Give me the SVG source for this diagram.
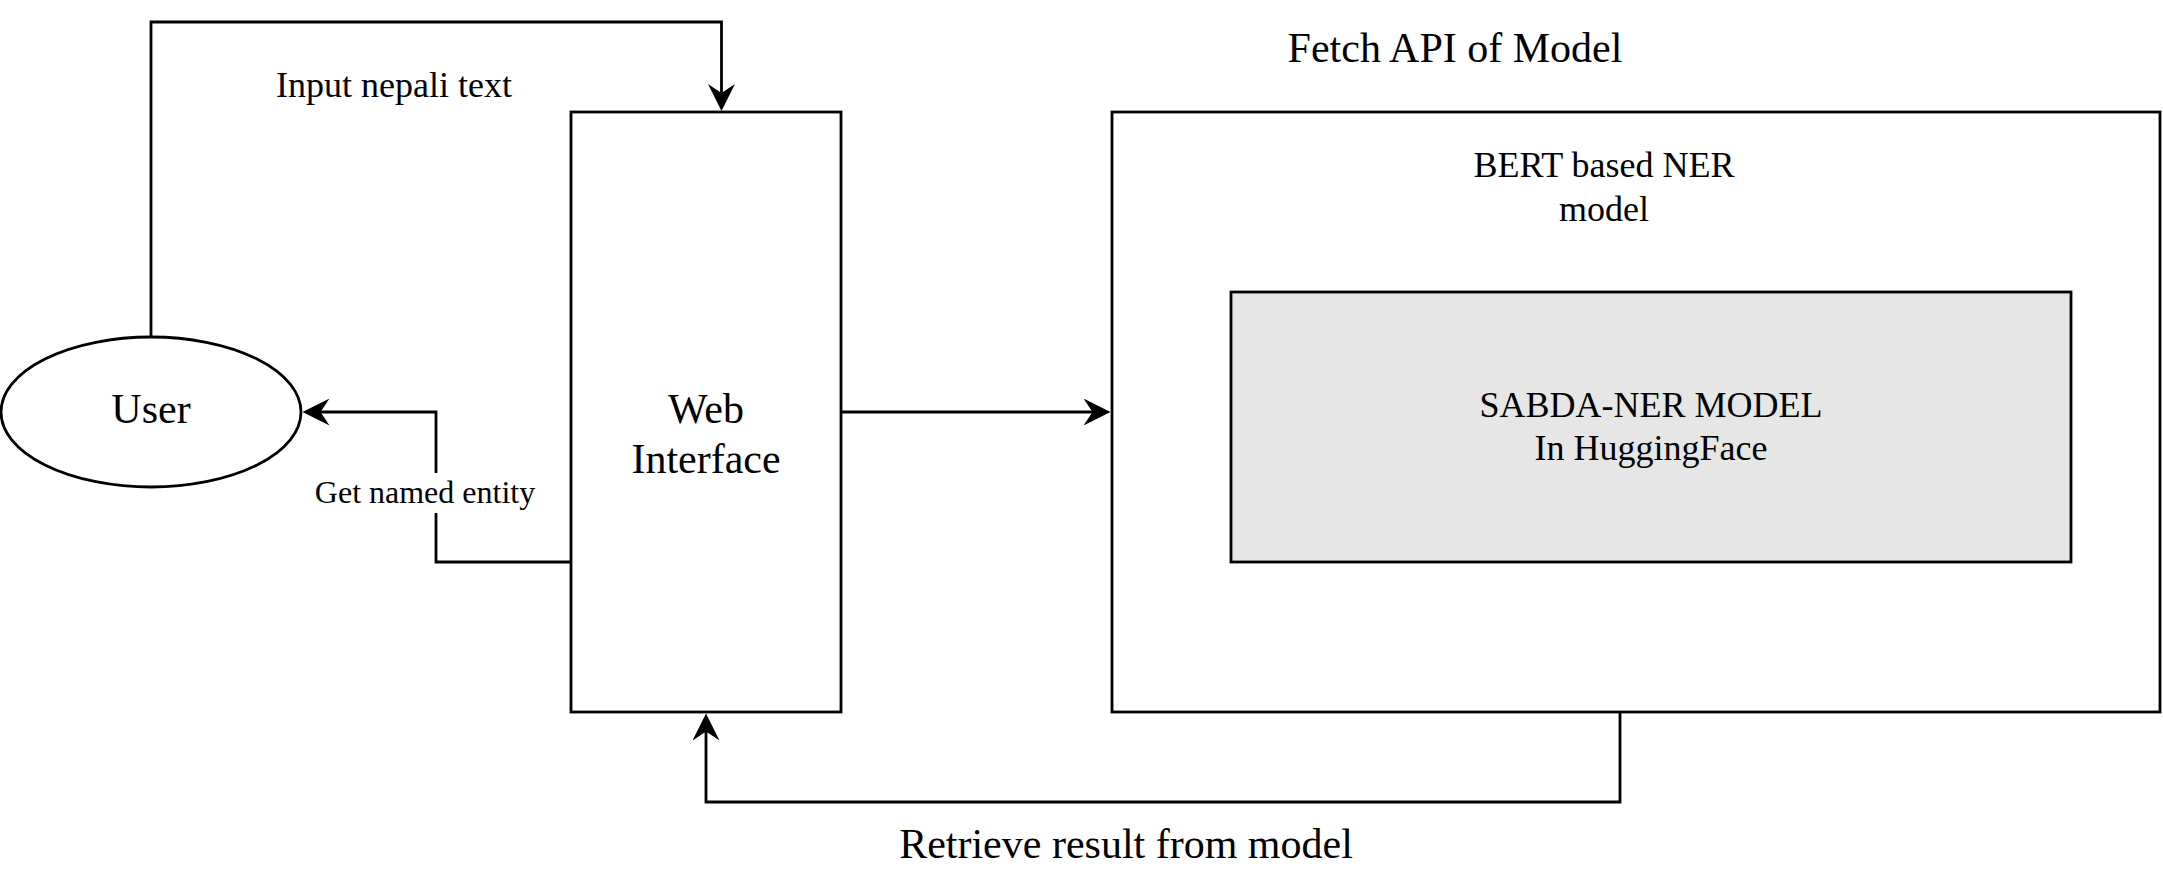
<svg xmlns="http://www.w3.org/2000/svg" width="2163" height="894" viewBox="0 0 2163 894">
<style>
.shape{fill:#ffffff;stroke:#000000;stroke-width:2.8}
.gray{fill:#e6e6e6;stroke:#000000;stroke-width:2.8}
.conn{fill:none;stroke:#000000;stroke-width:2.8}
text{font-family:"Liberation Serif","Times New Roman",serif;fill:#000000;text-anchor:middle}
.big{font-size:42px}
.mid{font-size:36px}
.small{font-size:32px}
</style>
<defs>
<marker id="arr" viewBox="0 0 27 27" markerWidth="27" markerHeight="27" refX="17" refY="13.5" markerUnits="userSpaceOnUse" orient="auto">
<path d="M0,0 L27,13.5 L0,27 L9,13.5 Z" fill="#000000"/>
</marker>
</defs>
<rect width="2163" height="894" fill="#ffffff"/>
<g id="connectors">
<path class="conn" d="M151,337 V22 H721.5 V101" marker-end="url(#arr)"/>
<path class="conn" d="M571,562 H436 V412 H312.5" marker-end="url(#arr)"/>
<path class="conn" d="M841,412 H1100.5" marker-end="url(#arr)"/>
<path class="conn" d="M1620,712 V802 H706 V723.5" marker-end="url(#arr)"/>
<rect x="311" y="473" width="228" height="40" fill="#ffffff"/>
<text class="small" x="425" y="503">Get named entity</text>
<text class="mid" x="394" y="97">Input nepali text</text>
<text class="big" x="1126" y="858">Retrieve result from model</text>
</g>
<g id="user">
<ellipse class="shape" cx="151" cy="412" rx="150" ry="75"/>
<text class="big" x="151" y="423">User</text>
</g>
<g id="web-interface">
<rect class="shape" x="571" y="112" width="270" height="600"/>
<text class="big" x="706" y="423">Web</text>
<text class="big" x="706" y="473">Interface</text>
</g>
<g id="bert-model">
<text class="big" x="1455" y="62">Fetch API of Model</text>
<rect class="shape" x="1112" y="112" width="1048" height="600"/>
<text class="mid" x="1604" y="177">BERT based NER</text>
<text class="mid" x="1604" y="221">model</text>
</g>
<g id="sabda-ner">
<rect class="gray" x="1231" y="292" width="840" height="270"/>
<text class="mid" x="1651" y="417">SABDA-NER MODEL</text>
<text class="mid" x="1651" y="460">In HuggingFace</text>
</g>
</svg>
